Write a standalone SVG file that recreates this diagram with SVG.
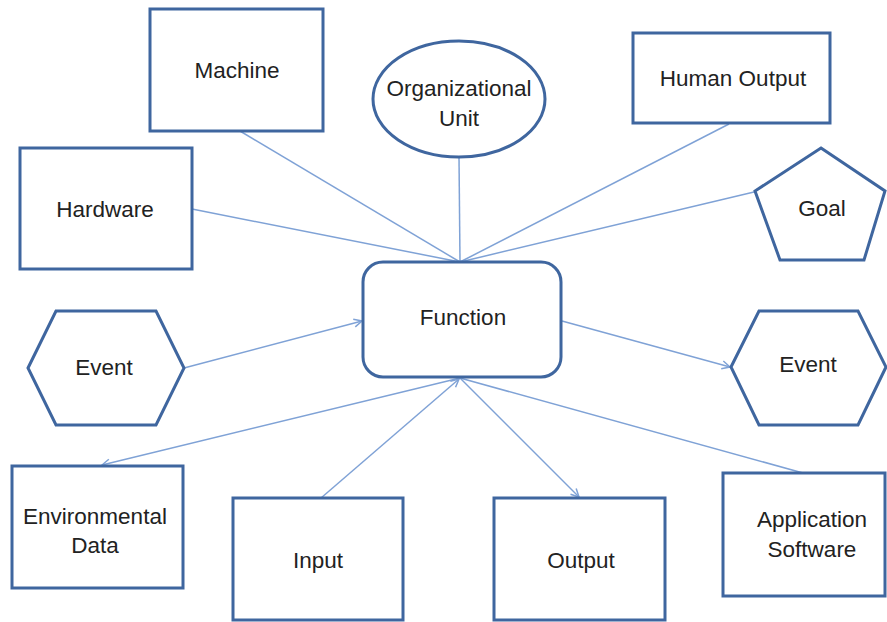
<svg xmlns="http://www.w3.org/2000/svg" width="887" height="622" viewBox="0 0 887 622">
  <style>
    .node { fill: #ffffff; stroke: #3f669f; stroke-width: 3; }
    .link { fill: none; stroke: #7fa2d6; stroke-width: 1.5; }
    .label { font-family: "Liberation Sans", Arial, sans-serif; font-size: 22.5px; fill: #222222; text-anchor: middle; }
  </style>
  <defs>
    <marker id="arrow" viewBox="0 0 10 10" refX="9" refY="5" markerWidth="10" markerHeight="10" markerUnits="userSpaceOnUse" orient="auto">
      <path d="M1,1 L9,5 L1,9" fill="none" stroke="#7fa2d6" stroke-width="1.5"/>
    </marker>
  </defs>
  <rect width="887" height="622" fill="#ffffff"/>

  <!-- connectors -->
  <g id="connectors">
    <line class="link" x1="240" y1="131" x2="460" y2="262"/>
    <line class="link" x1="192" y1="209" x2="460" y2="262"/>
    <line class="link" x1="459" y1="157" x2="460" y2="262"/>
    <line class="link" x1="729" y1="124" x2="460" y2="262"/>
    <line class="link" x1="754" y1="192" x2="460" y2="262"/>
    <line class="link" x1="184" y1="368" x2="362" y2="321" marker-end="url(#arrow)"/>
    <line class="link" x1="562" y1="321" x2="730" y2="367" marker-end="url(#arrow)"/>
    <line class="link" x1="460" y1="378" x2="102" y2="465" marker-end="url(#arrow)"/>
    <line class="link" x1="321" y1="498" x2="459" y2="379" marker-end="url(#arrow)"/>
    <line class="link" x1="460" y1="378" x2="579" y2="497" marker-end="url(#arrow)"/>
    <line class="link" x1="803" y1="473" x2="460" y2="378"/>
  </g>

  <g id="machine">
    <rect class="node" x="150" y="9" width="173" height="122"/>
    <text class="label" x="237" y="78">Machine</text>
  </g>
  <g id="hardware">
    <rect class="node" x="20" y="148" width="172" height="121"/>
    <text class="label" x="105" y="217">Hardware</text>
  </g>
  <g id="organizational-unit">
    <ellipse class="node" cx="459" cy="99" rx="86" ry="58"/>
    <text class="label" x="459" y="96">Organizational</text>
    <text class="label" x="459" y="126">Unit</text>
  </g>
  <g id="human-output">
    <rect class="node" x="633" y="33" width="197" height="90"/>
    <text class="label" x="733" y="86">Human Output</text>
  </g>
  <g id="goal">
    <polygon class="node" points="821,148 885,191 864,260 780,260 755,191"/>
    <text class="label" x="822" y="216">Goal</text>
  </g>
  <g id="function">
    <rect class="node" x="363" y="262" width="198" height="115" rx="20" ry="20"/>
    <text class="label" x="463" y="325">Function</text>
  </g>
  <g id="event-in">
    <polygon class="node" points="28,368 56,311 156,311 184,368 156,425 56,425"/>
    <text class="label" x="104" y="375">Event</text>
  </g>
  <g id="event-out">
    <polygon class="node" points="731,367 759,311 858,311 886,367 858,425 759,425"/>
    <text class="label" x="808" y="372">Event</text>
  </g>
  <g id="environmental-data">
    <rect class="node" x="12" y="466" width="171" height="122"/>
    <text class="label" x="95" y="524">Environmental</text>
    <text class="label" x="95" y="553">Data</text>
  </g>
  <g id="input">
    <rect class="node" x="233" y="498" width="170" height="122"/>
    <text class="label" x="318" y="568">Input</text>
  </g>
  <g id="output">
    <rect class="node" x="494" y="498" width="171" height="122"/>
    <text class="label" x="581" y="568">Output</text>
  </g>
  <g id="application-software">
    <rect class="node" x="723" y="473" width="162" height="123"/>
    <text class="label" x="812" y="527">Application</text>
    <text class="label" x="812" y="557">Software</text>
  </g>
</svg>
